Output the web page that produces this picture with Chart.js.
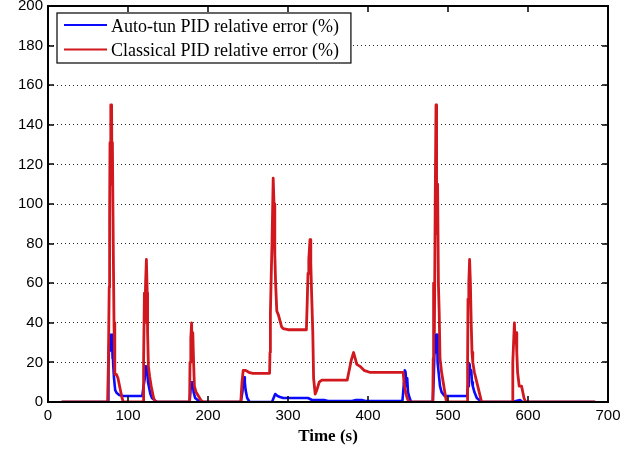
<!DOCTYPE html>
<html>
<head>
<meta charset="utf-8">
<script src="https://cdn.jsdelivr.net/npm/chart.js@4.4.0/dist/chart.umd.min.js"></script>
<style>
html,body{margin:0;padding:0;background:#fff;}
#wrap{width:642px;height:450px;position:relative;}
</style>
</head>
<body>
<div id="wrap"><canvas id="c" width="642" height="450"></canvas></div>
<script>
// ---- data ----
const seriesLabels = ['Auto-tun PID relative error (%)', 'Classical PID relative error (%)'];
const xTitle = 'Time (s)';
const xTicks = [0, 100, 200, 300, 400, 500, 600, 700];
const yTicks = [0, 20, 40, 60, 80, 100, 120, 140, 160, 180, 200];

// Auto-tun PID relative error (%)
const autoTime = [
  17, 75, 75.5, 76.5, 77, 78, 78.5, 80, 80.5, 81, 81.5, 82.5, 84, 86, 89, 94, 117, 118,
  119.5, 121, 122, 123, 124, 125, 126, 128, 130, 133, 136,
  177, 178, 179, 180, 181, 182, 184, 187, 190,
  241, 243, 244, 245, 246, 247, 249, 252, 280, 282, 284, 287, 290, 294, 325, 330, 345, 350, 380, 385, 392, 397, 443, 444, 445, 446, 447, 448, 449, 450, 452, 454,
  481, 482, 483, 484, 485, 485.5, 486.5, 487, 488, 489, 490, 492, 494, 496, 523, 524,
  525, 526, 527, 528, 529, 530, 531, 533, 536, 539, 542,
  580, 585, 590, 593, 684
];
const autoError = [
  0, 0, 18, 30, 34, 26, 34, 34, 22, 30, 19, 12, 6, 4.5, 3.5, 3, 3, 3.5,
  8, 12, 18, 14, 18, 10, 8, 4, 2, 1, 0,
  0, 5, 10, 8, 10, 5, 2, 1, 0,
  0, 5, 10, 12.5, 10, 6, 2, 0, 0, 2, 4, 3, 2.5, 2, 2, 1, 1, 0.5, 0.5, 1, 1, 0.5, 0.5, 5, 10, 16, 15, 8, 12, 5, 2, 0,
  0, 10, 24, 34, 34, 25, 34, 20, 16, 12, 8, 5, 4, 3, 3, 3.5,
  8, 15, 19, 14, 16, 10, 8, 5, 2, 1, 0,
  0, 0.5, 1, 0, 0
];

// Classical PID relative error (%)
const classicTime = [
  17, 74.5, 75.5, 76.5, 77, 77.5, 78.5, 79.5, 80, 80.5, 81.5, 82.5, 83.5, 85.5, 87.5, 89.5, 92, 94,
  119, 119.5, 120.5, 121, 122, 123, 124, 124.5, 125.5, 127, 129, 132, 134,
  177, 177.5, 178.5, 179.5, 180, 181, 182, 183, 185, 188, 191, 194,
  241, 242.5, 244, 247, 251, 256, 277, 277.5, 278, 279, 280, 281.5, 282.5, 283.5, 284.5, 286, 288, 290, 292, 294, 300, 323,
  324, 325, 326, 327.5, 328.5, 329.5, 331, 332, 334, 336, 339, 342, 374, 376, 379, 382, 384, 386, 390, 395, 402, 444, 445, 447, 449, 451,
  481, 481.5, 482, 483, 484, 485, 485.5, 486, 487, 488, 489, 490, 492, 494, 496, 498,
  524, 524.5, 525, 526, 527, 528, 529, 530, 531, 533, 536, 539, 542,
  580, 581, 582, 583, 584, 585, 586, 587, 589, 592, 595, 597, 684
];
const classicError = [
  0, 0, 20, 58, 93, 131, 150, 150, 110, 131, 82, 40, 14, 14, 12, 8, 3, 0,
  0, 20, 55, 40, 60, 72, 55, 35, 18, 13, 8, 2, 0,
  0, 20, 32, 40, 28, 35, 20, 8, 5, 3, 1, 0,
  0, 10, 16, 16, 15, 14.5, 14.5, 25, 45, 63, 80, 113, 100, 75, 60, 46, 44, 41, 38, 37, 36.5, 36.5,
  50, 65, 72, 82, 70, 55, 35, 12, 4, 6, 10, 11, 11, 15, 21, 25, 22, 19, 18, 16, 15, 15, 10, 5, 2, 0,
  0, 22, 60, 35, 100, 150, 130, 85, 110, 60, 45, 22, 15, 10, 5, 0,
  0, 20, 52, 60, 72, 60, 40, 25, 20, 15, 10, 5, 0,
  0, 20, 30, 40, 30, 35, 25, 15, 8, 8, 2, 0, 0
];

const toPoints = (xs, ys) => xs.map((x, i) => ({x: x, y: ys[i]}));

// ---- plugins ----
const framePlugin = {
  id: 'frame',
  afterDraw(chart) {
    const {ctx, chartArea: a, scales: {x, y}} = chart;
    ctx.save();
    // inward tick marks
    ctx.strokeStyle = '#000';
    ctx.lineWidth = 1.5;
    ctx.beginPath();
    x.ticks.forEach(t => {
      const px = Math.round(x.getPixelForValue(t.value));
      ctx.moveTo(px, a.bottom); ctx.lineTo(px, a.bottom - 6);
      ctx.moveTo(px, a.top); ctx.lineTo(px, a.top + 6);
    });
    y.ticks.forEach(t => {
      const py = Math.round(y.getPixelForValue(t.value));
      ctx.moveTo(a.left, py); ctx.lineTo(a.left + 6, py);
      ctx.moveTo(a.right, py); ctx.lineTo(a.right - 6, py);
    });
    ctx.stroke();
    // box
    ctx.lineWidth = 2;
    ctx.strokeRect(a.left, a.top, a.right - a.left, a.bottom - a.top);

    // legend
    ctx.font = '18px "Liberation Serif", "Times New Roman", serif';
    const ds = chart.data.datasets;
    let maxW = 0;
    ds.forEach(d => { maxW = Math.max(maxW, ctx.measureText(d.label).width); });
    const bx = a.left + 9, by = a.top + 7;
    const bw = 54 + maxW + 12, bh = 50;
    ctx.fillStyle = '#fff';
    ctx.fillRect(bx, by, bw, bh);
    ctx.lineWidth = 1.2;
    ctx.strokeStyle = '#000';
    ctx.strokeRect(bx, by, bw, bh);
    const rows = [a.top + 19, a.top + 43.5];
    ds.forEach((d, i) => {
      ctx.strokeStyle = d.borderColor;
      ctx.lineWidth = 2;
      ctx.beginPath();
      ctx.moveTo(a.left + 16, rows[i]);
      ctx.lineTo(a.left + 59, rows[i]);
      ctx.stroke();
      ctx.fillStyle = '#000';
      ctx.textBaseline = 'alphabetic';
      ctx.textAlign = 'left';
      ctx.fillText(d.label, a.left + 63, rows[i] + 6.5);
    });
    ctx.restore();
  }
};

const tickFont = {family: '"Liberation Sans", Arial, sans-serif', size: 15};

new Chart(document.getElementById('c'), {
  type: 'scatter',
  data: {
    datasets: [
      {
        label: seriesLabels[0],
        data: toPoints(autoTime, autoError),
        borderColor: '#0a0aff',
        backgroundColor: '#0a0aff',
        borderWidth: 2.6,
        showLine: true,
        pointRadius: 0,
        borderJoinStyle: 'round',
        order: 1
      },
      {
        label: seriesLabels[1],
        data: toPoints(classicTime, classicError),
        borderColor: '#d0181e',
        backgroundColor: '#d0181e',
        borderWidth: 2.8,
        showLine: true,
        pointRadius: 0,
        borderJoinStyle: 'round',
        order: 0
      }
    ]
  },
  options: {
    responsive: false,
    animation: false,
    devicePixelRatio: 1,
    layout: {padding: {top: 6, right: 34, left: 0, bottom: 0}},
    plugins: {legend: {display: false}, tooltip: {enabled: false}},
    scales: {
      x: {
        type: 'linear',
        min: xTicks[0],
        max: xTicks[xTicks.length - 1],
        afterBuildTicks: s => { s.ticks = xTicks.map(v => ({value: v})); },
        afterFit: s => { s.height = 48; s.paddingLeft = 0; s.paddingRight = 0; },
        grid: {display: false, drawTicks: false},
        border: {display: true, color: '#000', width: 2},
        ticks: {color: '#000', font: tickFont, padding: 5, maxRotation: 0},
        title: {
          display: true,
          text: xTitle,
          color: '#000',
          font: {family: '"Liberation Serif", "Times New Roman", serif', size: 17, weight: 'bold'},
          padding: {top: 0, bottom: 3}
        }
      },
      y: {
        type: 'linear',
        min: yTicks[0],
        max: yTicks[yTicks.length - 1],
        afterBuildTicks: s => { s.ticks = yTicks.map(v => ({value: v})); },
        afterFit: s => { s.width = 48; s.paddingTop = 0; s.paddingBottom = 0; },
        grid: {display: true, drawTicks: false, color: '#222', lineWidth: 1},
        border: {display: true, color: '#000', width: 2, dash: [1, 3]},
        ticks: {color: '#000', font: tickFont, padding: 5}
      }
    }
  },
  plugins: [framePlugin]
});
</script>
</body>
</html>
